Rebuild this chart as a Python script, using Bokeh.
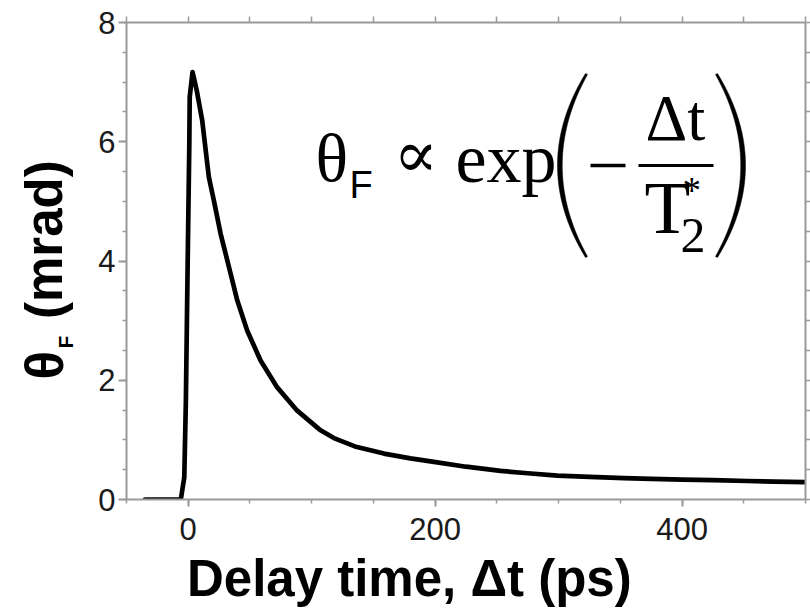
import numpy as np
from bokeh.plotting import figure
from bokeh.models import Range1d, LinearAxis, FixedTicker, Label
from bokeh.core.properties import value
from bokeh.layouts import row
from bokeh.embed import file_html
from bokeh.resources import INLINE

# ---- data ----
delay_ps = [-35, -6, -3.2, -1.9, -0.5, 0.9, 1.2, 3.5, 7, 11.3, 16.7, 20.8, 26.2, 34.3,
            39.7, 47.8, 58.6, 72.1, 88.3, 107.2, 118, 135, 158.5, 180, 199, 225, 253,
            275, 299, 325, 353, 375, 400, 425, 453, 475, 500]
theta_mrad = [0, 0, 0.37, 1.66, 3.9, 6.0, 6.75, 7.17, 6.85, 6.36, 5.41, 5.01, 4.46, 3.79,
              3.34, 2.83, 2.33, 1.88, 1.49, 1.16, 1.03, 0.89, 0.77, 0.69, 0.63, 0.55, 0.48,
              0.44, 0.40, 0.38, 0.36, 0.345, 0.335, 0.325, 0.31, 0.30, 0.29]
x_major = [0, 200, 400]
x_minor = list(range(-50, 501, 50))
y_major = [0, 2, 4, 6, 8]
y_minor = [i * 0.5 for i in range(17)]
x_label = "Delay time, \u0394t (ps)"

X0, X1, Y0, Y1 = -50, 500, 0, 8
W, H = 810, 613
LW = 80          # width of the strip holding the y label
FL, FR, FT, FB = 126, 805, 22, 499   # frame in page pixels
K = 0.33         # baseline correction factor for text

def dx(px):
    return X0 + (px - FL) * (X1 - X0) / (FR - FL)

def dy(py):
    return Y0 + (FB - py) * (Y1 - Y0) / (FB - FT)

p = figure(width=W - LW, height=H, x_range=Range1d(X0, X1), y_range=Range1d(Y0, Y1),
           output_backend="svg", toolbar_location=None,
           min_border_left=FL - LW, min_border_right=W - FR, min_border_top=FT,
           min_border_bottom=H - FB)
p.outline_line_color = None
p.grid.visible = False
p.background_fill_color = "white"
p.border_fill_color = "white"

AX = "#9a9a9a"

def style(ax, major_out, minor_out):
    ax.axis_line_color = AX
    ax.axis_line_width = 2
    ax.major_tick_line_color = AX
    ax.major_tick_line_width = 2
    ax.minor_tick_line_color = AX
    ax.minor_tick_line_width = 1.5
    ax.major_tick_in = 0
    ax.minor_tick_in = 0
    ax.major_tick_out = major_out
    ax.minor_tick_out = minor_out
    ax.axis_label = None
    ax.major_label_text_font = "Liberation Sans"
    ax.major_label_text_font_size = "31px"
    ax.major_label_text_color = "#1a1a1a"

bx = p.xaxis[0]
bx.ticker = FixedTicker(ticks=x_major, minor_ticks=x_minor)
style(bx, 7, 4)
bx.major_label_standoff = 11
# axis title, padded with no-break spaces so its centre sits left of the frame centre
bx.axis_label = x_label + "\u00a0" * 8
bx.axis_label_text_font = "Liberation Sans"
bx.axis_label_text_font_style = "bold"
bx.axis_label_text_font_size = "51px"
bx.axis_label_text_color = "black"
bx.axis_label_standoff = 7

ly = p.yaxis[0]
ly.ticker = FixedTicker(ticks=y_major, minor_ticks=y_minor)
style(ly, 8, 4)
ly.major_label_standoff = 3

# top and right frame axes: ticks only (minor ticks at every position, no labels)
tx = LinearAxis(ticker=FixedTicker(ticks=[], minor_ticks=x_minor))
style(tx, 6, 6)
p.add_layout(tx, "above")
ry = LinearAxis(ticker=FixedTicker(ticks=[], minor_ticks=y_minor))
style(ry, 5, 5)
p.add_layout(ry, "right")

# ---- data curve ----
p.line(delay_ps, theta_mrad, line_width=4.7, color="black", line_join="round", line_cap="round")

# ---- formula annotation ----
def lab(fig, txt, px, py, font, size):
    fs = float(size.replace("px", ""))
    fig.add_layout(Label(x=dx(px), y=dy(py - K * fs), text=txt, text_font=font,
                         text_font_size=size, text_align="left",
                         text_baseline="alphabetic", text_color="black"))

lab(p, "\u03b8", 315, 180, "Liberation Serif", "68px")
lab(p, "F", 349, 197, "Liberation Sans", "38px")
lab(p, "\u221d", 393, 176, "DejaVu Serif", "66px")
lab(p, "exp", 455, 181, "Liberation Serif", "70px")
lab(p, "\u0394t", 645, 139, "Liberation Serif", "65px")
lab(p, "T", 644, 232, "Liberation Serif", "75px")
lab(p, "2", 680, 251, "Liberation Serif", "50px")
lab(p, "*", 682, 202, "Liberation Serif", "37px")

# minus sign and fraction bar
p.segment(x0=[dx(590), dx(638)], y0=[dy(165), dy(165)], x1=[dx(625), dx(713)], y1=[dy(165), dy(165)],
          line_width=[3.5, 3], color="black")

# big parentheses as crescents
t = np.linspace(0, 1, 50)
def qb(p0, c, p2):
    return (1 - t) ** 2 * p0 + 2 * (1 - t) * t * c + t ** 2 * p2

def paren(xe, xc_out, xc_in, sgn):
    ox = qb(xe, xc_out, xe); oy = qb(73, 165, 257)
    ix = qb(xe + sgn * 2, xc_in, xe + sgn * 2)[::-1]; iy = qb(74, 165, 256)[::-1]
    xs = np.concatenate([ox, ix]); ys = np.concatenate([oy, iy])
    p.patch([dx(v) for v in xs], [dy(v) for v in ys], color="black", line_width=0.5)

paren(585, 529, 536.5, 1)
paren(717, 773, 765.5, -1)

# ---- strip that holds the y-axis title ----
# its frame is aligned with the main frame (rows align frames), so the range spans FT..FB
yfig = figure(width=LW, height=H, x_range=Range1d(0, LW), y_range=Range1d(FB, FT),
              output_backend="svg", toolbar_location=None, x_axis_location=None,
              y_axis_location=None, min_border=0, min_border_left=0, min_border_right=0,
              min_border_top=0, min_border_bottom=0)
yfig.outline_line_color = None
yfig.grid.visible = False
yfig.background_fill_color = "white"
yfig.border_fill_color = "white"

for txt, bx_, by_, fs in [("\u03b8", 61, 379, 53), ("F", 72, 348, 21), ("(mrad)", 61, 318.5, 51)]:
    yfig.text(x=[bx_ - K * fs], y=[by_], text=[txt], angle=np.pi / 2,
              text_font=value("Liberation Sans"), text_font_style="bold",
              text_font_size=value(f"{fs}px"), text_align="left",
              text_baseline="alphabetic", text_color="black")

layout = row(yfig, p)
open("out.html", "w").write(file_html(layout, INLINE))
